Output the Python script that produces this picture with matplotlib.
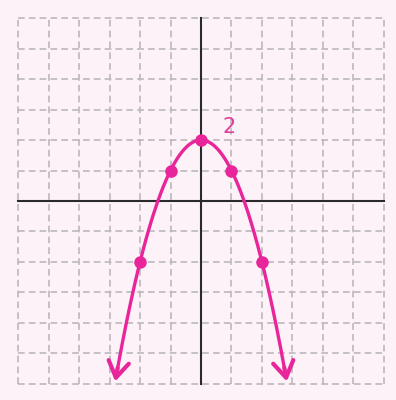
import numpy as np
import matplotlib
matplotlib.use("Agg")
import matplotlib.pyplot as plt
from matplotlib.patches import FancyArrowPatch

# parabola y = a*x^2 + c and the plotted points on it
coeffs = [-1.0, 0.0, 2.0]
point_x = [-2, -1, 0, 1, 2]
point_y = [-2, 1, 2, 1, -2]
x_end = 2.83  # where the branches leave the grid (y = -6)
vertex_label = "2"

pink = "#e8259a"
bg = "#fdf2f7"
grid_col = "#bcb8ba"

fig = plt.figure(figsize=(3.96, 4.0), dpi=100, facecolor=bg)
ax = fig.add_axes([12 / 396, 10 / 400, 378 / 396, 378 / 400])
ax.set_facecolor(bg)
ax.set_xlim(-6.2, 6.2)
ax.set_ylim(-6.2, 6.2)
for s in ax.spines.values():
    s.set_visible(False)
ax.set_xticks([])
ax.set_yticks([])

# dashed grid, including the outer border
for v in range(-6, 7):
    ax.plot([v, v], [-6, 6], color=grid_col, lw=1.2, ls=(0, (4, 2.5)), zorder=1)
    ax.plot([-6, 6], [v, v], color=grid_col, lw=1.2, ls=(0, (4, 2.5)), zorder=1)

# axes
ax.plot([-6, 6], [0, 0], color="#2a2a2a", lw=1.5, zorder=2)
ax.plot([0, 0], [-6, 6], color="#2a2a2a", lw=1.5, zorder=2)

# curve
xs = np.linspace(-x_end, x_end, 300)
ys = np.polyval(coeffs, xs)
ax.plot(xs[5:-5], ys[5:-5], color=pink, lw=2.4, zorder=3)

# arrow heads at both ends
for i0, i1 in [(6, 0), (-7, -1)]:
    arr = FancyArrowPatch((xs[i0], ys[i0]), (xs[i1], ys[i1]),
                          arrowstyle="->,head_length=5,head_width=3.2",
                          color=pink, lw=3.0, mutation_scale=2.3, zorder=4)
    ax.add_patch(arr)

ax.plot(point_x, point_y, "o", color=pink, ms=8, zorder=5)
ax.text(0.92, 2.43, vertex_label, color="#e0409a", fontsize=15,
        ha="center", va="center", zorder=5)

fig.savefig("out.png", dpi=100, facecolor=bg)
